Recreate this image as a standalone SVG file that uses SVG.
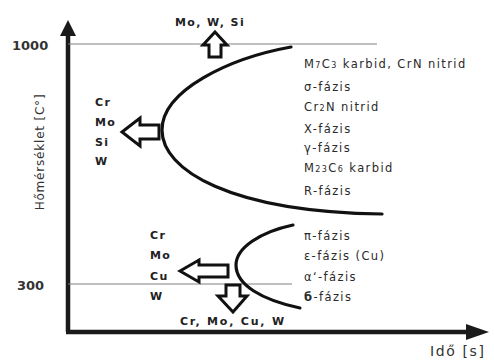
<svg xmlns="http://www.w3.org/2000/svg" width="494" height="360" viewBox="0 0 494 360">
<style>
.ax{stroke:#1a1a1a;stroke-width:4.5;fill:none}
.ref{stroke:#808080;stroke-width:1;fill:none}
.cur{stroke:#111;stroke-width:3.2;fill:none;stroke-linecap:round}
.blk{fill:#fff;stroke:#111;stroke-width:3;stroke-linejoin:miter}
.el{font-family:"DejaVu Sans",sans-serif;font-size:11px;font-weight:bold;fill:#222;letter-spacing:1.4px}
.ph{font-family:"DejaVu Sans",sans-serif;font-size:11.5px;fill:#2a2a2a;letter-spacing:1.4px}
.tk{font-family:"DejaVu Sans",sans-serif;font-size:13px;font-weight:bold;fill:#333}
.lab{font-family:"DejaVu Sans",sans-serif;font-size:12px;fill:#333;letter-spacing:0.8px}
.sub{font-size:8px}
</style>
<g id="axes">
<line class="ax" x1="68" y1="332" x2="68" y2="32"/>
<polygon points="68,20 60,36 76,36" fill="#1a1a1a"/>
<line class="ax" x1="66" y1="332" x2="470" y2="332"/>
<polygon points="489,332 466,324 466,340" fill="#1a1a1a"/>
<line class="ref" x1="68" y1="44" x2="377" y2="44"/>
<line class="ref" x1="68" y1="284" x2="292" y2="284"/>
<text class="tk" x="12" y="50">1000</text>
<text class="tk" x="17" y="290">300</text>
<text class="lab" transform="translate(44,152) rotate(-90)" text-anchor="middle">Hőmérséklet [C°]</text>
<text class="lab" x="430" y="356" style="font-size:14px;letter-spacing:1.6px">Idő [s]</text>
</g>
<g id="connectors">
<path class="cur" d="M291,47 C230,58 162,90 162,130 C162,170 230,212 382,214"/>
<path class="cur" d="M293,225 C260,232 236,248 236,265 C236,285 262,300 300,308"/>
</g>
<g id="arrow-up">
<polygon class="blk" points="215,32 227,45 221,45 221,57 209,57 209,45 203,45"/>
</g>
<g id="arrow-left-upper">
<polygon class="blk" points="122,132 140,118 140,125 159,125 159,139 140,139 140,146"/>
</g>
<g id="arrow-left-lower">
<polygon class="blk" points="180,271 199,260 199,265 228,265 228,277 199,277 199,282"/>
</g>
<g id="arrow-down">
<polygon class="blk" points="233,312 218,296 226,296 226,285 240,285 240,296 247,296"/>
</g>
<g id="labels-upper">
<text class="el" x="175" y="26">Mo, W, Si</text>
<text class="el" x="95" y="106">Cr</text>
<text class="el" x="95" y="126">Mo</text>
<text class="el" x="95" y="146">Si</text>
<text class="el" x="95" y="165">W</text>
</g>
<g id="labels-lower">
<text class="el" x="150" y="239">Cr</text>
<text class="el" x="150" y="259">Mo</text>
<text class="el" x="150" y="280">Cu</text>
<text class="el" x="150" y="300">W</text>
<text class="el" x="180" y="325" style="letter-spacing:1.8px">Cr, Mo, Cu, W</text>
</g>
<g id="phases-upper">
<text class="ph" x="304" y="68">M<tspan class="sub">7</tspan>C<tspan class="sub">3</tspan> karbid, CrN nitrid</text>
<text class="ph" x="304" y="91">σ-fázis</text>
<text class="ph" x="304" y="111">Cr<tspan class="sub">2</tspan>N nitrid</text>
<text class="ph" x="304" y="133">X-fázis</text>
<text class="ph" x="304" y="152">γ-fázis</text>
<text class="ph" x="304" y="172">M<tspan class="sub">23</tspan>C<tspan class="sub">6</tspan> karbid</text>
<text class="ph" x="304" y="195">R-fázis</text>
</g>
<g id="phases-lower">
<text class="ph" x="304" y="240">π-fázis</text>
<text class="ph" x="304" y="260">ε-fázis (Cu)</text>
<text class="ph" x="304" y="281">α‘-fázis</text>
<text class="ph" x="304" y="301"><tspan font-weight="bold">б</tspan>-fázis</text>
</g>
</svg>
